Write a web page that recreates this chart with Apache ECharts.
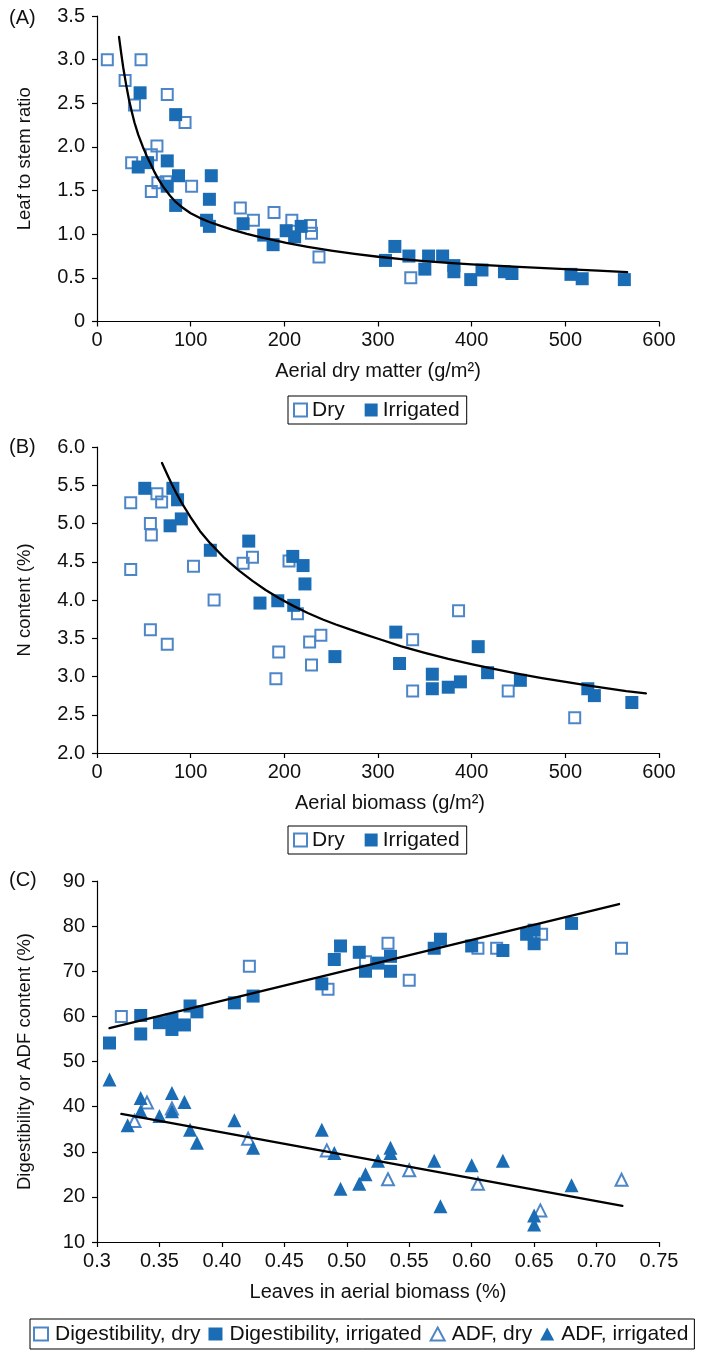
<!DOCTYPE html>
<html><head><meta charset="utf-8">
<script src="https://cdn.jsdelivr.net/npm/echarts@6/dist/echarts.min.js"></script>
<style>html,body{margin:0;padding:0;background:#fff}#c{width:701px;height:1352px}</style>
</head><body><div id="c"></div>
<script>
// ---------- Panel A: leaf to stem ratio vs aerial dry matter ----------
const aDry = [[11,3.0],[47,3.0],[30,2.76],[40,2.48],[75,2.6],[94,2.28],[64,2.01],[58,1.91],[37,1.82],[65,1.59],[74,1.6],[58,1.49],[101,1.55],[153,1.30],[167,1.16],[189,1.25],[208,1.16],[228,1.10],[229,1.01],[237,0.74],[335,0.50]];
const aIrr = [[46,2.62],[84,2.37],[44,1.77],[54,1.82],[75,1.84],[87,1.67],[122,1.67],[75,1.55],[84,1.33],[120,1.40],[117,1.16],[120,1.09],[156,1.12],[178,0.99],[188,0.88],[202,1.04],[211,0.97],[218,1.09],[308,0.70],[318,0.86],[333,0.75],[350,0.60],[354,0.75],[369,0.75],[381,0.64],[381,0.57],[399,0.48],[411,0.59],[435,0.57],[443,0.55],[506,0.54],[518,0.49],[563,0.48]];
const aFit = [[23.5,3.26],[26,3.06],[28,2.91],[31,2.72],[34,2.55],[37,2.41],[40,2.28],[44,2.14],[49,2.00],[53,1.90],[57,1.81],[61,1.72],[65,1.64],[71,1.54],[78,1.44],[84,1.37],[90,1.315],[100,1.24],[110,1.185],[120,1.14],[132,1.095],[145,1.05],[160,1.005],[175,0.965],[190,0.93],[202,0.90],[225,0.855],[250,0.812],[275,0.775],[300,0.742],[325,0.715],[350,0.692],[375,0.672],[400,0.655],[450,0.625],[500,0.60],[535,0.582],[566,0.566]];
const aXTicks = ['0','100','200','300','400','500','600'];
const aYTicks = ['0','0.5','1.0','1.5','2.0','2.5','3.0','3.5'];

// ---------- Panel B: N content vs aerial biomass ----------
const bDry = [[36,5.27],[64,5.39],[69,5.28],[57,5.0],[58,4.85],[36,4.40],[103,4.44],[125,4.0],[57,3.61],[75,3.42],[156,4.48],[166,4.56],[205,4.51],[214,3.82],[227,3.45],[239,3.54],[194,3.32],[191,2.97],[229,3.15],[386,3.86],[337,3.48],[337,2.81],[439,2.81],[510,2.46]];
const bIrr = [[51,5.46],[81,5.46],[86,5.31],[90,5.06],[78,4.97],[121,4.65],[162,4.77],[209,4.57],[220,4.45],[222,4.21],[174,3.96],[193,3.99],[210,3.93],[254,3.26],[319,3.58],[323,3.17],[358,3.03],[358,2.84],[375,2.86],[388,2.93],[407,3.39],[417,3.05],[452,2.95],[524,2.84],[531,2.75],[571,2.66]];
const bFit = [[69.4,5.79],[75,5.64],[80,5.51],[85,5.39],[90,5.28],[95,5.18],[100,5.08],[110,4.90],[121,4.74],[136,4.55],[152,4.38],[166,4.25],[180,4.13],[195,4.02],[210,3.92],[225,3.83],[241,3.745],[255,3.68],[270,3.615],[285,3.555],[301,3.49],[325,3.395],[350,3.31],[375,3.23],[402,3.155],[425,3.095],[450,3.035],[475,2.98],[502,2.925],[525,2.88],[545,2.845],[565,2.81],[586,2.78]];
const bXTicks = ['0','100','200','300','400','500','600'];
const bYTicks = ['2.0','2.5','3.0','3.5','4.0','4.5','5.0','5.5','6.0'];

// ---------- Panel C: digestibility / ADF vs leaves ----------
const cDigDry = [[0.3195,60.0],[0.422,71.1],[0.485,66.0],[0.515,72.1],[0.533,76.2],[0.55,68.0],[0.605,75.1],[0.62,75.1],[0.656,78.2],[0.72,75.1]];
const cDigIrr = [[0.31,54.1],[0.335,60.2],[0.335,56.1],[0.35,58.6],[0.36,59.3],[0.36,57.1],[0.37,58.1],[0.3745,62.3],[0.38,61.0],[0.41,63.0],[0.425,64.5],[0.48,67.2],[0.49,72.6],[0.495,75.6],[0.51,74.2],[0.515,70.0],[0.525,71.8],[0.535,73.3],[0.535,70.0],[0.57,75.1],[0.575,77.1],[0.60,75.6],[0.625,74.6],[0.644,78.2],[0.65,79.1],[0.65,76.1],[0.68,80.6]];
const cAdfDry = [[0.33,36.8],[0.34,40.9],[0.36,39.6],[0.421,32.9],[0.484,30.3],[0.533,23.9],[0.55,25.9],[0.605,22.9],[0.655,17.0],[0.72,23.8]];
const cAdfIrr = [[0.31,46.0],[0.3245,35.9],[0.335,41.9],[0.335,39.0],[0.35,37.9],[0.36,43.0],[0.36,39.0],[0.37,41.0],[0.3745,34.9],[0.38,32.0],[0.41,37.0],[0.425,30.9],[0.48,34.9],[0.49,29.7],[0.495,21.8],[0.51,22.9],[0.515,25.0],[0.525,28.0],[0.535,30.9],[0.535,29.7],[0.57,28.0],[0.575,17.9],[0.60,27.0],[0.625,28.0],[0.65,15.9],[0.65,13.9],[0.68,22.6]];
const cDigFit = [[0.310,57.4],[0.718,84.9]];
const cAdfFit = [[0.3195,38.4],[0.7207,18.0]];
const cXTicks = ['0.3','0.35','0.40','0.45','0.50','0.55','0.60','0.65','0.70','0.75'];
const cYTicks = ['10','20','30','40','50','60','70','80','90'];

const FONT = "'Liberation Sans', Arial, Helvetica, sans-serif";
const FILL = '#1a6cb5', EDGE = '#4d86c8', TXT = '#111';

function lab(ticks, min, step) {
  return v => { const i = Math.round((v - min) / step); return ticks[i] !== undefined ? ticks[i] : ''; };
}
function xAxis(grid, min, max, step, ticks, name, pad) {
  return {
    gridIndex: grid, type: 'value', min: min, max: max, interval: step,
    axisLine: {show: true, onZero: false, lineStyle: {color: '#000', width: 1.2}},
    axisTick: {show: true, length: 5, inside: false, lineStyle: {color: '#000', width: 1.2}},
    axisLabel: {margin: 9, fontSize: 20, color: TXT, fontFamily: FONT, formatter: lab(ticks, min, step)},
    splitLine: {show: false},
    name: name, nameLocation: 'middle', nameGap: 40,
    nameTextStyle: {fontSize: 20, color: TXT, fontFamily: FONT, padding: pad}
  };
}
function yAxis(grid, min, max, step, ticks, name, pad) {
  return {
    gridIndex: grid, type: 'value', min: min, max: max, interval: step,
    axisLine: {show: true, onZero: false, lineStyle: {color: '#000', width: 1.2}},
    axisTick: {show: true, length: 5, inside: false, lineStyle: {color: '#000', width: 1.2}},
    axisLabel: {margin: 12, fontSize: 20, color: TXT, fontFamily: FONT, formatter: lab(ticks, min, step)},
    splitLine: {show: false},
    name: name, nameLocation: 'middle', nameGap: 63,
    nameTextStyle: {fontSize: 18.5, color: TXT, fontFamily: FONT, padding: pad}
  };
}
function hollow(name, data, xi, sym, size) {
  return {name: name, type: 'scatter', xAxisIndex: xi, yAxisIndex: xi, data: data, symbol: sym, symbolSize: size,
    itemStyle: {color: 'rgba(255,255,255,0)', borderColor: EDGE, borderWidth: 2, opacity: 1}, z: 2};
}
function filled(name, data, xi, sym, size) {
  return {name: name, type: 'scatter', xAxisIndex: xi, yAxisIndex: xi, data: data, symbol: sym, symbolSize: size,
    itemStyle: {color: FILL, opacity: 1}, z: 3};
}
function fit(name, data, xi) {
  return {name: name, type: 'line', xAxisIndex: xi, yAxisIndex: xi, data: data, smooth: false,
    showSymbol: false, symbol: 'none', silent: true,
    lineStyle: {color: '#000', width: 2.3, join: 'round', cap: 'round'}, z: 5};
}
function legend(left, top, names, pad, gap, iw, tpad) {
  return {left: left, top: top, data: names, orient: 'horizontal', itemWidth: iw, itemHeight: 13, itemGap: gap,
    padding: pad, borderColor: '#000', borderWidth: 1, backgroundColor: '#fff', selectedMode: false,
    textStyle: {fontSize: 21, color: TXT, fontFamily: FONT, lineHeight: 22, padding: tpad}};
}

const chart = echarts.init(document.getElementById('c'));
chart.setOption({
  animation: false,
  backgroundColor: '#fff',
  title: [
    {text: '(A)', left: 9, top: 8, padding: 0, textStyle: {fontSize: 20, fontWeight: 'normal', color: TXT, fontFamily: FONT}},
    {text: '(B)', left: 9, top: 437, padding: 0, textStyle: {fontSize: 20, fontWeight: 'normal', color: TXT, fontFamily: FONT}},
    {text: '(C)', left: 9, top: 870, padding: 0, textStyle: {fontSize: 20, fontWeight: 'normal', color: TXT, fontFamily: FONT}}
  ],
  grid: [
    {left: 97, top: 16, width: 562, height: 305.5, outerBoundsMode: 'none', containLabel: false},
    {left: 97, top: 447, width: 562, height: 306, outerBoundsMode: 'none', containLabel: false},
    {left: 97, top: 881, width: 562, height: 361, outerBoundsMode: 'none', containLabel: false}
  ],
  xAxis: [
    xAxis(0, 0, 600, 100, aXTicks, 'Aerial dry matter (g/m²)', 0),
    xAxis(1, 0, 600, 100, bXTicks, 'Aerial biomass (g/m²)', [0, 0, 0, 24]),
    xAxis(2, 0.3, 0.75, 0.05, cXTicks, 'Leaves in aerial biomass (%)', 0)
  ],
  yAxis: [
    yAxis(0, 0, 3.5, 0.5, aYTicks, 'Leaf to stem ratio', [0, 0, 0, 20]),
    yAxis(1, 2, 6, 0.5, bYTicks, 'N content (%)', 0),
    yAxis(2, 10, 90, 10, cYTicks, 'Digestibility or ADF content (%)', 0)
  ],
  legend: [
    legend(288, 396, ['Dry', 'Irrigated'], [3, 7, 3, 5], 20, 13, 0),
    legend(288, 826, ['Dry', 'Irrigated'], [3, 7, 3, 5], 20, 13, 0),
    legend(30, 1319, ['Digestibility, dry', 'Digestibility, irrigated', 'ADF, dry', 'ADF, irrigated'], [4, 6, 4, 3], 8, 14, [0, 0, 0, 2])
  ],
  series: [
    hollow('Dry', aDry, 0, 'rect', 11),
    filled('Irrigated', aIrr, 0, 'rect', 13),
    fit('fitA', aFit, 0),
    hollow('Dry', bDry, 1, 'rect', 11),
    filled('Irrigated', bIrr, 1, 'rect', 13),
    fit('fitB', bFit, 1),
    hollow('Digestibility, dry', cDigDry, 2, 'rect', 11),
    filled('Digestibility, irrigated', cDigIrr, 2, 'rect', 13),
    hollow('ADF, dry', cAdfDry, 2, 'triangle', 12),
    filled('ADF, irrigated', cAdfIrr, 2, 'triangle', 14),
    fit('fitDig', cDigFit, 2),
    fit('fitAdf', cAdfFit, 2)
  ]
});
</script>
</body></html>
